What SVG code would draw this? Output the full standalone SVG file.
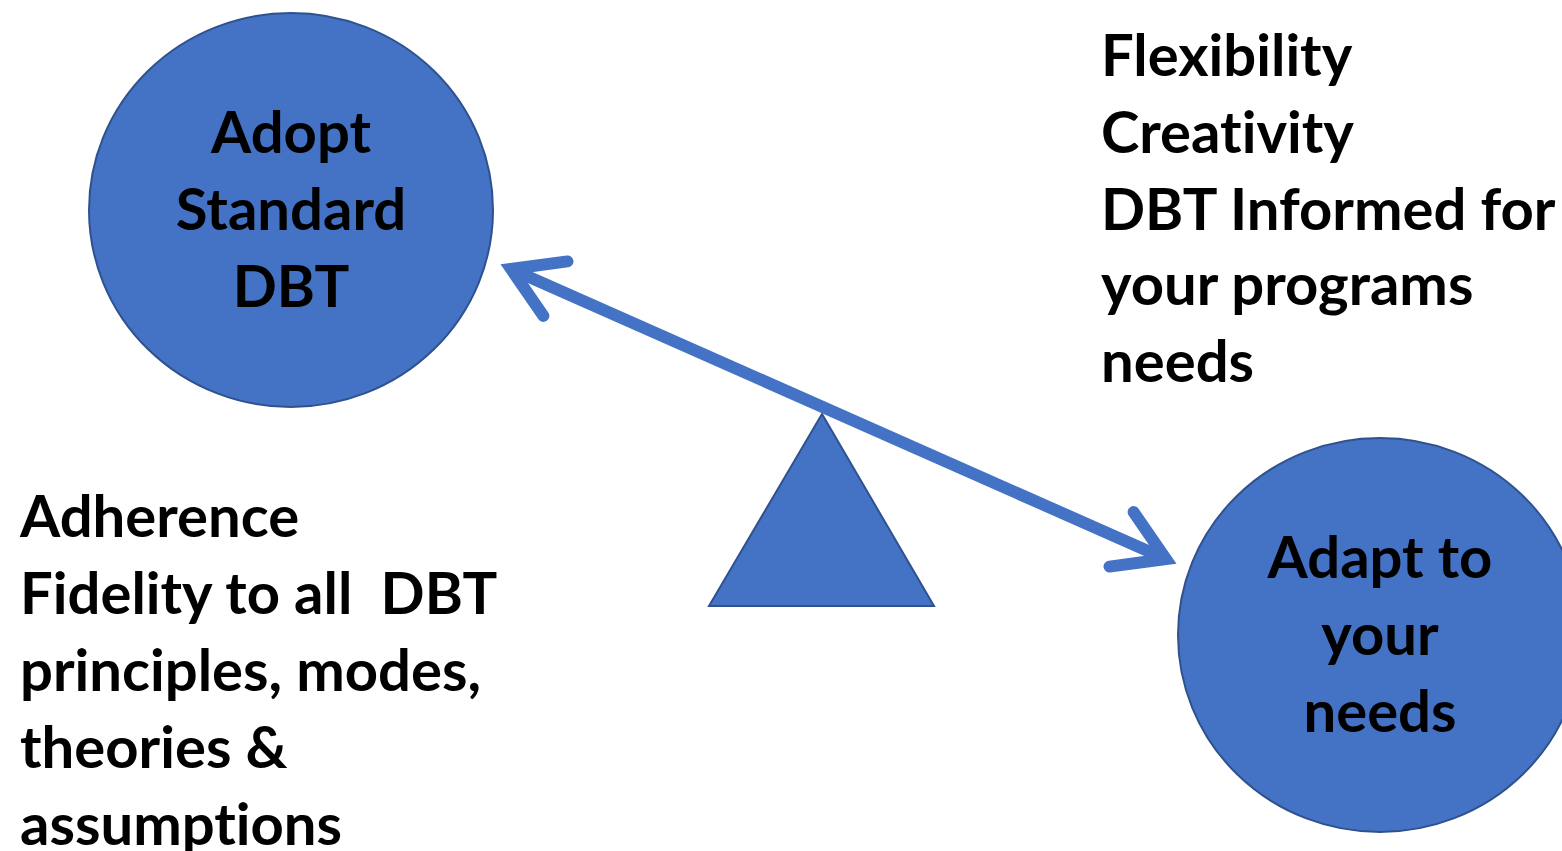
<svg xmlns="http://www.w3.org/2000/svg" width="1562" height="851" viewBox="0 0 1562 851">
  <style>
    .node { fill: #4472C4; stroke: #2F528F; stroke-width: 2; }
    .label { font-family: Lato, "Liberation Sans", sans-serif; font-weight: bold; font-size: 58px; fill: #000; font-variant-ligatures: none; }
    .center { text-anchor: middle; }
    .beam { fill: none; stroke: #4472C4; stroke-width: 12; }
  </style>
  <defs>
    <!-- open chevron head, drawn at both ends of the beam -->
    <marker id="chevron" markerUnits="userSpaceOnUse" orient="auto-start-reverse" refX="0" refY="0" markerWidth="1" markerHeight="1" overflow="visible">
      <path d="M -48.6 -29.8 L 0 0 L -48.6 29.8" fill="none" stroke="#4472C4" stroke-width="12" stroke-linecap="round" stroke-linejoin="miter" stroke-miterlimit="10"/>
    </marker>
  </defs>

  <g id="adopt-standard">
    <ellipse class="node" cx="291" cy="210" rx="202" ry="197"/>
    <text class="label center" x="291" y="153">Adopt</text>
    <text class="label center" x="291" y="230">Standard</text>
    <text class="label center" x="291" y="307">DBT</text>
  </g>

  <g id="adapt-needs">
    <ellipse class="node" cx="1380" cy="635" rx="202" ry="197"/>
    <text class="label center" x="1380" y="578">Adapt to</text>
    <text class="label center" x="1380" y="655">your</text>
    <text class="label center" x="1380" y="732">needs</text>
  </g>

  <g id="fulcrum">
    <polygon class="node" points="822,414 709,606 934,606"/>
  </g>

  <g id="connectors">
    <line class="beam" x1="511" y1="269" x2="1166" y2="559" marker-start="url(#chevron)" marker-end="url(#chevron)"/>
  </g>

  <g id="adherence-notes">
    <text class="label" x="20" y="537">Adherence</text>
    <text class="label" x="20" y="614" xml:space="preserve">Fidelity to all  DBT</text>
    <text class="label" x="20" y="691">principles, modes,</text>
    <text class="label" x="20" y="768">theories &amp;</text>
    <text class="label" x="20" y="845">assumptions</text>
  </g>

  <g id="flexibility-notes">
    <text class="label" x="1101" y="76">Flexibility</text>
    <text class="label" x="1101" y="153">Creativity</text>
    <text class="label" x="1101" y="230">DBT Informed for</text>
    <text class="label" x="1101" y="305">your programs</text>
    <text class="label" x="1101" y="382">needs</text>
  </g>
</svg>
